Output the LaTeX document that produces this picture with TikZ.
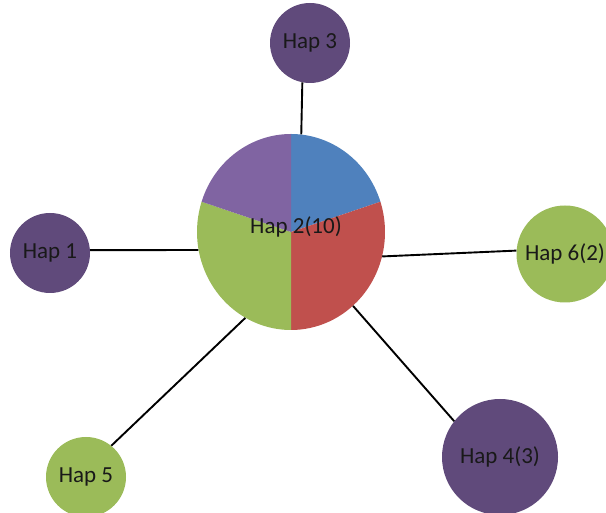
\documentclass[tikz,border=0pt]{standalone}
\usepackage{fontspec}
\setmainfont{Carlito}
\usetikzlibrary{shapes.geometric}
\definecolor{pieblue}{HTML}{4F81BD}
\definecolor{piered}{HTML}{C0504D}
\definecolor{piegreen}{HTML}{9BBB59}
\definecolor{piepurple}{HTML}{8064A2}
\definecolor{hapviolet}{HTML}{604A7B}
\definecolor{hapgreen}{HTML}{9BBB59}
\begin{document}
\begin{tikzpicture}[x=1bp,y=1bp,
  hap/.style={circle,inner sep=0pt,font=\fontsize{23bp}{27bp}\selectfont,text=black!90},
  hapv/.style={hap,fill=hapviolet},
  hapg/.style={hap,fill=hapgreen},
  link/.style={draw=black,line width=1.9bp}]
\useasboundingbox (0,0) rectangle (606,513);
\clip (0,0) rectangle (606,513);

% central haplotype: pie chart of 10 individuals (2/3/3/2)
\node[ellipse,minimum width=188bp,minimum height=196bp,inner sep=0pt] (pie) at (291,281) {};
\coordinate (c) at (291,281);
\fill[pieblue]   (c) -- ++(90:94 and 98)  arc[start angle=90, end angle=18,   x radius=94, y radius=98] -- cycle;
\fill[piered]    (c) -- ++(18:94 and 98)  arc[start angle=18, end angle=-90,  x radius=94, y radius=98] -- cycle;
\fill[piegreen]  (c) -- ++(-90:94 and 98) arc[start angle=-90, end angle=-198, x radius=94, y radius=98] -- cycle;
\fill[piepurple] (c) -- ++(162:94 and 98) arc[start angle=162, end angle=90,  x radius=94, y radius=98] -- cycle;
\node[font=\fontsize{23bp}{27bp}\selectfont,text=black!90] (pielabel) at (296,286) {Hap 2(10)};

% satellite haplotypes
\node[hapv,minimum size=80bp]  (h3) at (310,470) {Hap 3};
\node[hapv,minimum size=80bp]  (h1) at (50,260)  {Hap 1};
\node[hapg,minimum size=97bp]  (h6) at (565,259) {Hap 6(2)};
\node[hapg,minimum size=80bp]  (h5) at (86,36)   {Hap 5};
\node[hapv,minimum size=116bp] (h4) at (500,56)  {Hap 4(3)};

% mutational links
\draw[link] (h3.259) -- (pie.84);
\draw[link] (h1.4)   -- (pie.191);
\draw[link] (pie.345) -- (h6.176);
\draw[link] (pie.242) -- (h5.51);
\draw[link] (pie.310) -- (h4.142);
\end{tikzpicture}
\end{document}
